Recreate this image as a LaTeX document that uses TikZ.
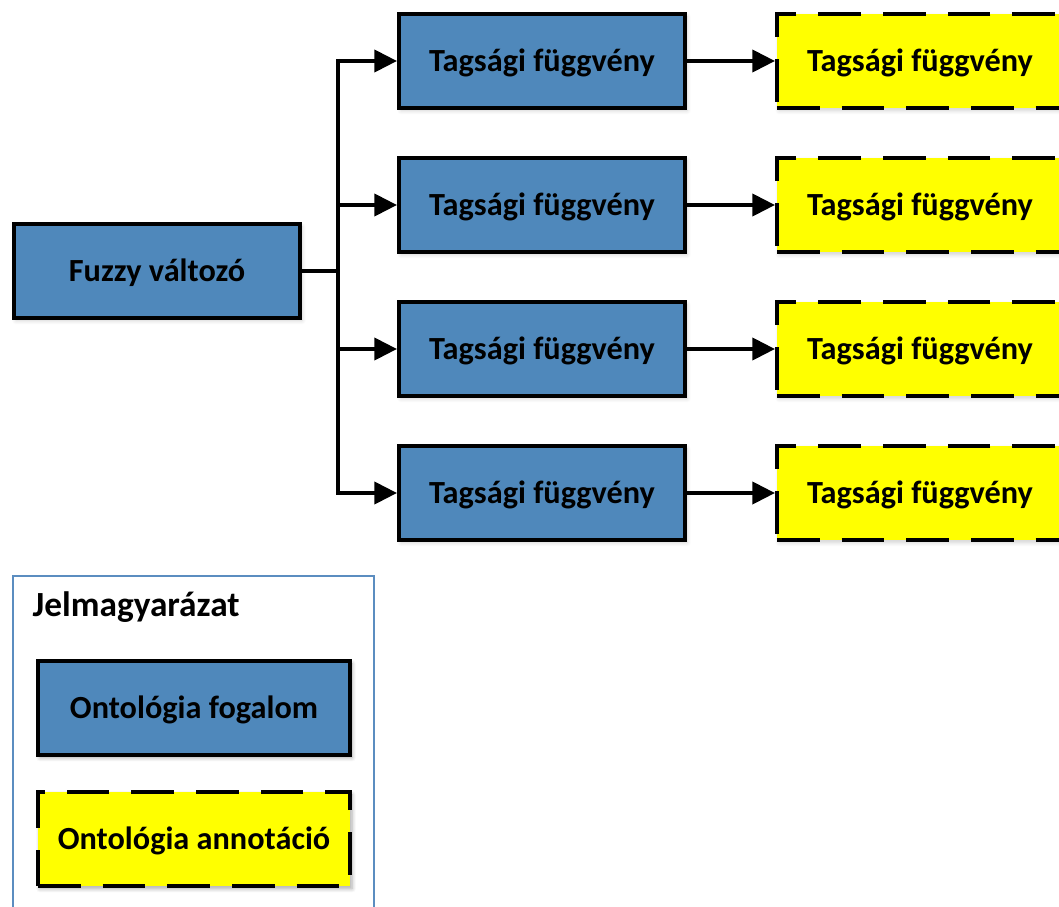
\documentclass[tikz,border=0pt]{standalone}
\usepackage{fontspec}
\setmainfont{Carlito}
\usetikzlibrary{arrows.meta,shadows.blur}
\definecolor{conceptblue}{HTML}{4F88BB}
\definecolor{annotyellow}{HTML}{FFFF00}
\definecolor{legendframe}{HTML}{5B8DC0}
\tikzset{
  px/.style={x=0.75pt,y=-0.75pt},
  boxbase/.style={rectangle, line width=3pt, draw=black, inner sep=0pt,
    minimum width=214.5pt, minimum height=70.5pt,
    text height=15.6pt, text depth=0pt,
    font=\bfseries\fontsize{24.2}{28}\selectfont,
    blur shadow={shadow xshift=1.5pt, shadow yshift=-2pt, shadow blur steps=6,
      shadow opacity=18, shadow blur radius=3pt}},
  concept/.style={boxbase, fill=conceptblue},
  annot/.style={boxbase, fill=annotyellow, dash pattern=on 32pt off 16.5pt},
  legendbox/.style={boxbase, minimum width=234pt},
  link/.style={line width=3pt, -{Triangle[length=17pt,width=16.5pt]}},
  trunk/.style={line width=3pt}
}
\begin{document}
\begin{tikzpicture}[px]
  \useasboundingbox (0,0) rectangle (1059,906);

  % source variable
  \node[concept] (fv) at (157,271) {Fuzzy változó};

  % membership functions and their annotations
  \foreach \i/\y in {1/61,2/205,3/349,4/493}{
    \node[concept] (tf\i) at (542,\y) {Tagsági függvény};
    \node[annot]   (ta\i) at (920,\y) {Tagsági függvény};
    \draw[link] (tf\i.east) -- (ta\i.west);
  }

  % branching connector
  \coordinate (j)  at (338,271);
  \draw[trunk] (fv.east) -- (j);
  \coordinate (jt) at (338,61);
  \coordinate (jb) at (338,493);
  \draw[trunk] ([yshift=1.5pt]jt) -- ([yshift=-1.5pt]jb);
  \foreach \i in {1,2,3,4}{
    \draw[link] (j |- tf\i.west) -- (tf\i.west);
  }

  % legend
  \draw[legendframe, line width=1.1pt] (13,912) -- (13,576) -- (374,576) -- (374,912);
  \node[anchor=west, font=\bfseries\fontsize{26.5}{30}\selectfont] (lt) at (28,607) {Jelmagyarázat};
  \node[concept, legendbox] (lc) at (194,708) {Ontológia fogalom};
  \node[annot, legendbox]   (la) at (194,839) {Ontológia annotáció};
\end{tikzpicture}
\end{document}
